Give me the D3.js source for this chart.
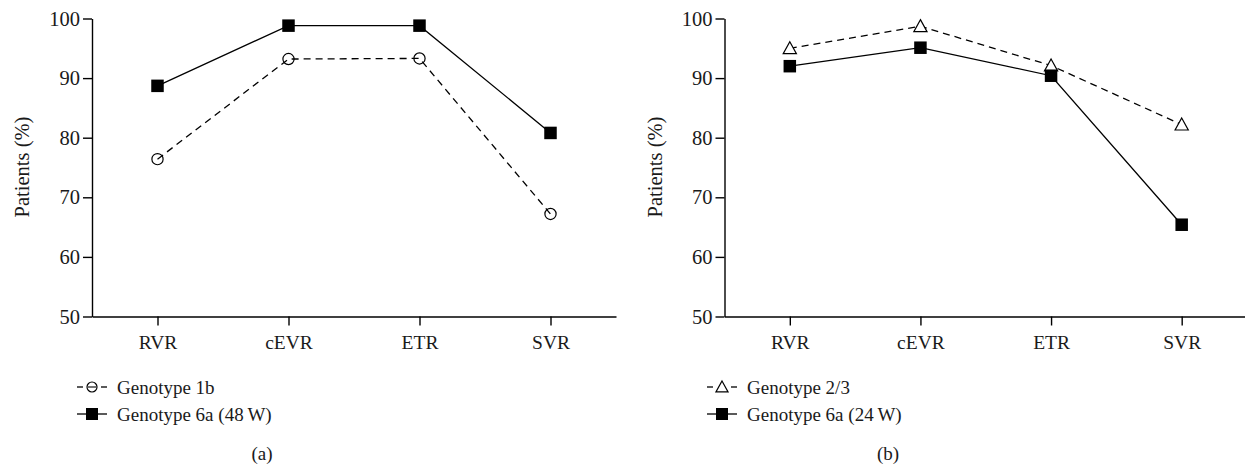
<!DOCTYPE html>
<html>
<head>
<meta charset="utf-8">
<script src="https://cdn.jsdelivr.net/npm/d3@7"></script>
<style>
  body { margin: 0; background: #fff; }
  svg text { font-family: "Liberation Serif", "Times New Roman", serif; fill: #1a1a1a; }
</style>
</head>
<body>
<svg id="chart" width="1245" height="466"></svg>
<script>
// categories shared by both panels
var stages = ['RVR', 'cEVR', 'ETR', 'SVR'];
var yTicks = [50, 60, 70, 80, 90, 100];

// panel (a)
var genotype1b   = [76.4, 93.2, 93.3, 67.2];
var genotype6a48 = [88.7, 98.8, 98.8, 80.8];
// panel (b)
var genotype23   = [95.0, 98.7, 92.1, 82.2];
var genotype6a24 = [92.0, 95.1, 90.4, 65.4];

var app = {};
app.top = 18.5;     // y of 100
app.bottom = 316.5; // y of 50
app.tick = 9;

app.panels = [
  { x0: 92, x1: 616, label: '(a)', labelX: 262, legendX: 77,
    series: [
      { name: 'Genotype 1b', values: genotype1b, dash: '7,5', marker: 'circle' },
      { name: 'Genotype 6a (48\u2009W)', values: genotype6a48, dash: null, marker: 'square' }
    ] },
  { x0: 724.5, x1: 1247, label: '(b)', labelX: 888, legendX: 707,
    series: [
      { name: 'Genotype 2/3', values: genotype23, dash: '7,5', marker: 'triangle' },
      { name: 'Genotype 6a (24\u2009W)', values: genotype6a24, dash: null, marker: 'square' }
    ] }
];

var svg = d3.select('#chart');

// draw one marker shape centred on (0,0)
app.marker = function(g, type, small){
  if(type == 'square'){
    var s = small ? 12 : 12.5;
    g.append('rect').attr('x', -s/2).attr('y', -s/2).attr('width', s).attr('height', s)
      .style('fill', '#000');
  } else if(type == 'circle'){
    g.append('circle').attr('r', small ? 5 : 5.6)
      .style('fill', 'none').style('stroke', '#000').style('stroke-width', 1.2);
    if(small){
      g.append('line').attr('x1', -4).attr('x2', 4)
        .style('stroke', '#000').style('stroke-width', 1.1);
    }
  } else {
    var h = small ? 11 : 12;
    g.append('path')
      .attr('d', 'M0,' + (-h*0.55) + 'L' + (h*0.55) + ',' + (h*0.45) + 'L' + (-h*0.55) + ',' + (h*0.45) + 'Z')
      .style('fill', '#fff').style('stroke', '#000').style('stroke-width', 1.2);
  }
};

app.panels.forEach(function(p){
  var x = d3.scalePoint().domain(stages).range([p.x0, p.x1]).padding(0.5);
  var y = d3.scaleLinear().domain([50, 100]).range([app.bottom, app.top]);

  var gx = svg.append('g').attr('transform', 'translate(0,' + app.bottom + ')')
    .call(d3.axisBottom(x).tickSize(app.tick).tickSizeOuter(0).tickPadding(9.5));
  var gy = svg.append('g').attr('transform', 'translate(' + p.x0 + ',0)')
    .call(d3.axisLeft(y).tickValues(yTicks).tickSize(app.tick).tickSizeOuter(0).tickPadding(3));

  [gx, gy].forEach(function(g){
    g.selectAll('path, line').style('stroke', '#000').style('stroke-width', 1.4);
    g.selectAll('text').style('font-family', '"Liberation Serif", serif').style('fill', '#1a1a1a');
  });
  gx.selectAll('text').style('font-size', '19.5px');
  gy.selectAll('text').style('font-size', '20.5px');

  var line = d3.line()
    .x(function(d, i){ return x(stages[i]); })
    .y(function(d){ return y(d); });

  p.series.forEach(function(s){
    svg.append('path')
      .datum(s.values)
      .attr('d', line)
      .style('fill', 'none')
      .style('stroke', '#000')
      .style('stroke-width', 1.3)
      .style('stroke-dasharray', s.dash);
  });

  // markers after lines
  p.series.forEach(function(s){
    s.values.forEach(function(v, i){
      var g = svg.append('g').attr('transform', 'translate(' + x(stages[i]) + ',' + y(v) + ')');
      app.marker(g, s.marker, false);
    });
  });

  // y label
  svg.append('text')
    .attr('transform', 'translate(' + (p.x0 - 63) + ',' + 167 + ') rotate(-90)')
    .attr('text-anchor', 'middle')
    .style('font-size', '20.5px')
    .text('Patients (%)');

  // legend
  p.series.forEach(function(s, i){
    var ly = 387 + i*27;
    var lg = svg.append('g').attr('transform', 'translate(' + p.legendX + ',' + ly + ')');
    if(s.dash){
      lg.append('line').attr('x1', 0).attr('x2', 6).style('stroke', '#000').style('stroke-width', 1.3);
      lg.append('line').attr('x1', 24).attr('x2', 30).style('stroke', '#000').style('stroke-width', 1.3);
    } else {
      lg.append('line').attr('x1', 0).attr('x2', 30).style('stroke', '#000').style('stroke-width', 1.3);
    }
    var m = lg.append('g').attr('transform', 'translate(15,0)');
    app.marker(m, s.marker, true);
    lg.append('text').attr('x', 40).attr('y', 6.5)
      .style('font-size', '19px')
      .text(s.name);
  });

  svg.append('text')
    .attr('x', p.labelX).attr('y', 460)
    .attr('text-anchor', 'middle')
    .style('font-size', '19px')
    .text(p.label);
});
</script>
</body>
</html>
